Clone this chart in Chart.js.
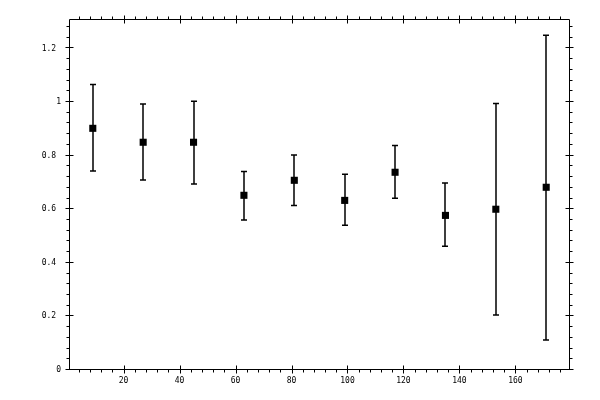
<!DOCTYPE html>
<html><head><meta charset="utf-8">
<script src="https://cdn.jsdelivr.net/npm/chart.js@4/dist/chart.umd.min.js"></script>
<style>html,body{margin:0;padding:0;background:#fff}</style>
</head><body>
<canvas id="c" width="600" height="400" style="width:600px;height:400px;display:block"></canvas>
<script>
const xValues = [9, 27, 45, 63, 81, 99, 117, 135, 153, 171];
const yValues = [0.902, 0.850, 0.850, 0.652, 0.708, 0.633, 0.738, 0.577, 0.600, 0.682];
const yLower  = [0.743, 0.709, 0.694, 0.560, 0.614, 0.540, 0.641, 0.462, 0.205, 0.112];
const yUpper  = [1.066, 0.993, 1.003, 0.741, 0.802, 0.731, 0.838, 0.698, 0.995, 1.249];
const xTickLabels = [20, 40, 60, 80, 100, 120, 140, 160];
const yTickLabels = [0, 0.2, 0.4, 0.6, 0.8, 1, 1.2];
const xMinorStep = 4;
const yMinorStep = 0.04;

const FONT = {family: 'DejaVu Sans Mono', size: 8};

const frameAndErrors = {
  id: 'frameAndErrors',
  beforeDatasetsDraw(chart) {
    const {ctx, chartArea: a, scales: {x, y}} = chart;
    const L = Math.round(a.left) + 0.5, R = Math.round(a.right) - 0.5;
    const T = Math.round(a.top) + 0.5, B = Math.round(a.bottom) - 0.5;
    ctx.save();
    ctx.strokeStyle = '#000';
    ctx.lineWidth = 1;
    ctx.beginPath();
    ctx.moveTo(L, T); ctx.lineTo(R, T); ctx.lineTo(R, B); ctx.lineTo(L, B); ctx.closePath();
    // x ticks
    for (let v = xMinorStep; v < x.max; v += xMinorStep) {
      const px = Math.round(x.getPixelForValue(v)) + 0.5;
      const major = xTickLabels.includes(Math.round(v));
      if (major) {
        ctx.moveTo(px, B - 4); ctx.lineTo(px, B + 4);
        ctx.moveTo(px, T - 4); ctx.lineTo(px, T + 4);
      } else {
        ctx.moveTo(px, B); ctx.lineTo(px, B + 3);
        ctx.moveTo(px, T); ctx.lineTo(px, T - 3);
      }
    }
    // y ticks
    for (let i = 0; i * yMinorStep < y.max; i++) {
      const v = i * yMinorStep;
      const py = Math.round(y.getPixelForValue(v)) - 0.5;
      const major = yTickLabels.some(t => Math.abs(t - v) < 1e-6);
      if (major) {
        ctx.moveTo(L - 4, py); ctx.lineTo(L + 4, py);
        ctx.moveTo(R - 4, py); ctx.lineTo(R + 4, py);
      } else {
        ctx.moveTo(L - 3, py); ctx.lineTo(L, py);
        ctx.moveTo(R, py); ctx.lineTo(R + 3, py);
      }
    }
    ctx.stroke();
    // error bars
    ctx.lineWidth = 1.5;
    ctx.beginPath();
    xValues.forEach((xv, i) => {
      const px = Math.round(x.getPixelForValue(xv));
      const pt = y.getPixelForValue(yUpper[i]);
      const pb = y.getPixelForValue(yLower[i]);
      ctx.moveTo(px, pt); ctx.lineTo(px, pb);
      ctx.moveTo(px - 3, pt); ctx.lineTo(px + 3, pt);
      ctx.moveTo(px - 3, pb); ctx.lineTo(px + 3, pb);
    });
    ctx.stroke();
    ctx.restore();
  }
};

new Chart(document.getElementById('c'), {
  type: 'scatter',
  data: {
    datasets: [{
      data: xValues.map((xv, i) => ({x: xv, y: yValues[i]})),
      pointStyle: 'rect',
      pointRadius: 5,
      pointHoverRadius: 5,
      pointBorderWidth: 0,
      backgroundColor: '#000',
      borderColor: '#000'
    }]
  },
  options: {
    responsive: false,
    animation: false,
    events: [],
    layout: {padding: {top: 19, right: 30, left: 0, bottom: 0}},
    plugins: {legend: {display: false}, tooltip: {enabled: false}},
    scales: {
      x: {
        type: 'linear', min: 0.5, max: 179.5,
        afterBuildTicks: s => { s.ticks = xTickLabels.map(v => ({value: v})); },
        afterFit: s => { s.height = 30; },
        grid: {display: false, drawTicks: false},
        border: {display: false},
        ticks: {font: FONT, color: '#000', padding: 6, maxRotation: 0, autoSkip: false,
                callback: v => String(v)}
      },
      y: {
        type: 'linear', min: 0, max: 1.31,
        afterBuildTicks: s => { s.ticks = yTickLabels.map(v => ({value: v})); },
        afterFit: s => { s.width = 69; },
        grid: {display: false, drawTicks: false},
        border: {display: false},
        ticks: {font: FONT, color: '#000', padding: 8, autoSkip: false,
                callback: v => Number.isInteger(v) ? String(v) : String(v) + ' '}
      }
    }
  },
  plugins: [frameAndErrors]
});
</script>
</body></html>
